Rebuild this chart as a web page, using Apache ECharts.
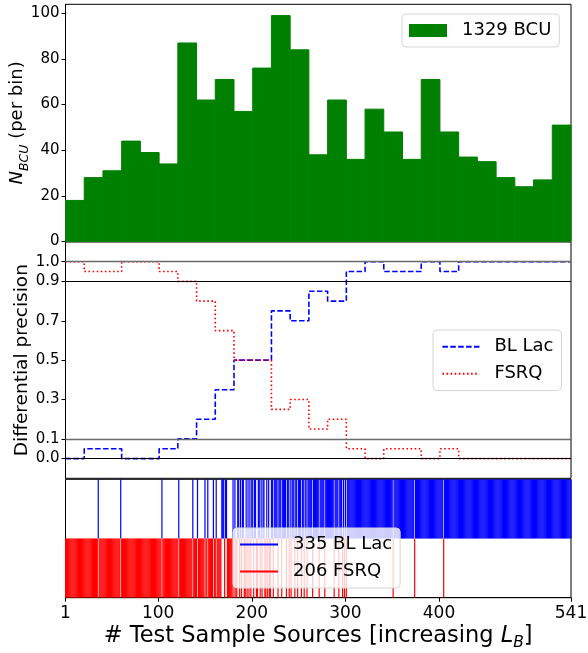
<!DOCTYPE html>
<html>
<head>
<meta charset="utf-8">
<script src="https://cdn.jsdelivr.net/npm/echarts@6/dist/echarts.min.js"></script>
<style>
html,body{margin:0;padding:0;background:#fff;}
#main{width:588px;height:653px;}
</style>
</head>
<body>
<div id="main"></div>
<script>
// histogram bins (source index) and BCU counts per bin
var binLeft  = [1,21,41,61,81,101,121,141,161,181,201,221,241,261,281,301,321,341,361,381,401,421,441,461,481,501,521];
var binRight = [21,41,61,81,101,121,141,161,181,201,221,241,261,281,301,321,341,361,381,401,421,441,461,481,501,521,541];
var bcuCounts = [18,28,31,44,39,34,87,62,71,57,76,99,84,38,62,36,58,48,36,71,48,37,35,28,24,27,51];

// differential precision per bin
var blLacPrec = [0,0.05,0.05,0,0,0.05,0.1,0.2,0.35,0.5,0.5,0.75,0.7,0.85,0.8,0.95,1,0.95,0.95,1,0.95,1,1,1,1,1,1];
var fsrqPrec  = [1,0.95,0.95,1,1,0.95,0.9,0.8,0.65,0.5,0.5,0.25,0.3,0.15,0.2,0.05,0,0.05,0.05,0,0.05,0,0,0,0,0,0];
var refLevels = [0, 0.1, 0.9, 1.0];
var precTicks = [0, 0.1, 0.3, 0.5, 0.7, 0.9, 1.0];
var countTicks = [0, 20, 40, 60, 80, 100];

// class of every test source, 20 per row (B = BL Lac, F = FSRQ)
var sourceClass = [
	"FFFFFFFFFFFFFFFFFFFF", //1-20
	"FFFFFFFFFFFFFFFBFFFF",
	"FFFFFFFFFFFFFFFFFFFB",
	"FFFFFFFFFFFFFFFFFFFF",
	"FFFFFFFFFFFFFFFFFFFF",
	"FFFBFFFFFFFFFFFFFFFF", //101-120
	"FBFFFFFFFFFFFFFFBFFF",
	"FBFFFFFFFBFFBFFFFFBF",
	"FBFFFFFBBBFBBFFFFFFB",
	"FBFFBBFBFBBFFBFBFBFB",
	"BFBBFFBBFBFBBFFBFBFF", //201-220
	"BBFBBBBFBBBFBBBBFBBF",
	"BFBBBFBBFBBBFBBFBBFB",
	"BBBBFBBBBBBFBBBBBFBB",
	"BBBBBBBFBBBBFBBBFBFB",
	"FBBBBBBBBBBBBBBBBBBB", //301-320
	"BBBBBBBBBBBBBBBBBBBB",
	"BBBBBBBBBBFBBBBBBBBB",
	"BBBBBBBBBBBBBFBBBBBB",
	"BBBBBBBBBBBBBBBBBBBB",
	"BBBBFBBBBBBBBBBBBBBB", //401-420
	"BBBBBBBBBBBBBBBBBBBB",
	"BBBBBBBBBBBBBBBBBBBB",
	"BBBBBBBBBBBBBBBBBBBB",
	"BBBBBBBBBBBBBBBBBBBB",
	"BBBBBBBBBBBBBBBBBBBB",
	"BBBBBBBBBBBBBBBBBBBB", //521-540
	"B"                     //541
];
var xTicks = [1, 100, 200, 300, 400, 541];
var xMin = 1, xMax = 541;

var FONT = 'DejaVu Sans';

// split the sources into the two rug series
var blLacIdx = [], fsrqIdx = [];
var n = 1;
sourceClass.forEach(function(row){
	for (var j = 0; j < row.length; j++) {
		if (row[j] == 'B') blLacIdx.push([n]); else fsrqIdx.push([n]);
		n++;
	}
});

var histData = binLeft.map(function(x, i){ return [x, binRight[i], bcuCounts[i]]; });
function stepData(vals){
	var d = binLeft.map(function(x, i){ return [x, vals[i]]; });
	d.push([xMax, vals[vals.length - 1]]);
	return d;
}

function rugRender(y0, y1, color){
	return function(params, api){
		var x = api.value(0);
		var a = api.coord([x, y1]);
		var b = api.coord([x, y0]);
		return {type:'line', shape:{x1:a[0], y1:a[1], x2:b[0], y2:b[1]},
			style:{stroke:color, lineWidth:1.2}};
	};
}

// the 0.1 and 1.0 guide lines look softer than 0.0 and 0.9
function guideStyle(v){
	if (v == 0.1 || v == 1.0) return {type:'solid', color:'#6a6a6a', width:1.4};
	return {type:'solid', color:'#000', width:1};
}

var gridBase = {show:true, borderColor:'#000', borderWidth:1, backgroundColor:'transparent',
	left:65.5, right:17, outerBoundsMode:'none', containLabel:false};
var legendBase = {
	orient:'vertical',
	backgroundColor:'rgba(255,255,255,0.8)',
	borderColor:'#d5d5d5', borderWidth:1, borderRadius:4,
	itemWidth:38, itemGap:7,
	textStyle:{fontFamily:FONT, fontSize:18, color:'#000', lineHeight:20, padding:[0,0,0,10]}
};
var yTickLabel = {fontFamily:FONT, fontSize:15, color:'#000'};
var xTickLabel = {fontFamily:FONT, fontSize:17, color:'#000'};

var chart = echarts.init(document.getElementById('main'));
var option = {
	animation:false,
	backgroundColor:'#fff',
	textStyle:{fontFamily:FONT},
	grid:[
		Object.assign({top:4.3, height:237.2}, gridBase),
		Object.assign({top:242, height:236.3}, gridBase),
		Object.assign({top:479.3, height:118.4}, gridBase)
	],
	legend:[
		Object.assign({}, legendBase, {left:402, top:14, padding:[6.5,8,6.5,7], itemHeight:13, icon:'rect',
			data:['1329 BCU']}),
		Object.assign({}, legendBase, {left:433, top:330, padding:[6.8,8,6.8,8.4], itemWidth:37, itemHeight:2,
			itemStyle:{opacity:0},
			data:['BL Lac', 'FSRQ']}),
		Object.assign({}, legendBase, {left:233, top:528, padding:[6.5,8,6.5,7], itemHeight:2, icon:'rect',
			data:['335 BL Lac', '206 FSRQ']})
	],
	xAxis:[
		{type:'value', gridIndex:0, min:xMin, max:xMax, show:false},
		{type:'value', gridIndex:1, min:xMin, max:xMax, show:false},
		{type:'value', gridIndex:2, min:xMin, max:xMax, splitLine:{show:false},
			axisLine:{lineStyle:{color:'#000'}},
			axisTick:{customValues:xTicks, length:4, lineStyle:{color:'#000'}},
			axisLabel:Object.assign({customValues:xTicks, margin:7}, xTickLabel),
			name:'# Test Sample Sources [increasing {i|L}{sub|B}]',
			nameLocation:'middle', nameGap:23, nameMoveOverlap:false,
			nameTextStyle:{fontFamily:FONT, fontSize:22.5, color:'#000', lineHeight:30, rich:{
				i:{fontFamily:FONT, fontSize:22.5, fontStyle:'italic', lineHeight:30},
				sub:{fontFamily:FONT, fontSize:15.5, fontStyle:'italic', verticalAlign:'bottom', lineHeight:17}
			}}}
	],
	yAxis:[
		{type:'value', gridIndex:0, min:0, max:103.95, splitLine:{show:false},
			axisLine:{show:true, lineStyle:{color:'#000'}},
			axisTick:{show:true, customValues:countTicks, length:4, lineStyle:{color:'#000'}},
			axisLabel:Object.assign({customValues:countTicks, margin:6}, yTickLabel),
			name:'{i|N}{sub|BCU} (per bin)', nameLocation:'middle', nameRotate:90, nameGap:34,
			nameMoveOverlap:false,
			nameTextStyle:{fontFamily:FONT, fontSize:18, color:'#000', lineHeight:28, rich:{
				i:{fontFamily:FONT, fontSize:18, fontStyle:'italic', lineHeight:28},
				sub:{fontFamily:FONT, fontSize:12.5, fontStyle:'italic', verticalAlign:'bottom', lineHeight:14}
			}}},
		{type:'value', gridIndex:1, min:-0.1, max:1.1, splitLine:{show:false},
			axisLine:{show:true, lineStyle:{color:'#000'}},
			axisTick:{show:true, customValues:precTicks, length:4, lineStyle:{color:'#000'}},
			axisLabel:Object.assign({customValues:precTicks, margin:6,
				formatter:function(v){ return v.toFixed(1); }}, yTickLabel),
			name:'Differential precision', nameLocation:'middle', nameRotate:90, nameGap:34,
			nameMoveOverlap:false,
			nameTextStyle:{fontFamily:FONT, fontSize:18.5, color:'#000'}},
		{type:'value', gridIndex:2, min:0, max:1, show:false}
	],
	series:[
		{
			name:'1329 BCU', type:'custom', xAxisIndex:0, yAxisIndex:0,
			itemStyle:{color:'#008000'},
			encode:{x:[0,1], y:2},
			data:histData,
			renderItem:function(params, api){
				var p0 = api.coord([api.value(0), api.value(2)]);
				var p1 = api.coord([api.value(1), 0]);
				return {type:'rect', shape:{x:p0[0], y:p0[1], width:p1[0]-p0[0], height:p1[1]-p0[1]},
					style:{fill:'#008000', stroke:'#008000', lineWidth:1}};
			}
		},
		{
			name:'BL Lac', type:'line', xAxisIndex:1, yAxisIndex:1, step:'end', symbol:'none',
			itemStyle:{color:'#0000ff'},
			lineStyle:{color:'#0000ff', width:1.6, type:[5.5,2.4]},
			data:stepData(blLacPrec),
			z:3,
			markLine:{
				silent:true, symbol:'none', label:{show:false},
				data:refLevels.map(function(v){ return {yAxis:v, lineStyle:guideStyle(v)}; })
			}
		},
		{
			name:'FSRQ', type:'line', xAxisIndex:1, yAxisIndex:1, step:'end', symbol:'none',
			itemStyle:{color:'#ff0000'},
			lineStyle:{color:'#ff0000', width:1.6, type:[1.6,2.5]},
			data:stepData(fsrqPrec),
			z:3
		},
		{
			name:'335 BL Lac', type:'custom', xAxisIndex:2, yAxisIndex:2, clip:true,
			itemStyle:{color:'#0000ff'},
			data:blLacIdx,
			renderItem:rugRender(0.5, 1, '#0000ff')
		},
		{
			name:'206 FSRQ', type:'custom', xAxisIndex:2, yAxisIndex:2, clip:true,
			itemStyle:{color:'#ff0000'},
			data:fsrqIdx,
			renderItem:rugRender(0, 0.5, '#ff0000')
		}
	]
};
chart.setOption(option);
</script>
</body>
</html>
